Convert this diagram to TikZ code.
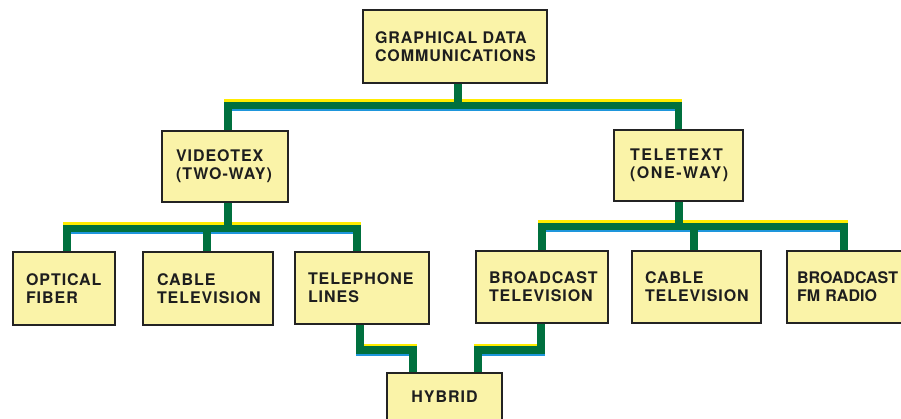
\documentclass[tikz,border=0pt]{standalone}
\usepackage{fontspec}
\newfontfamily\boxfont[LetterSpace=6]{TeX Gyre Heros}
\newfontfamily\wideboxfont[LetterSpace=10]{TeX Gyre Heros}
\newfontfamily\tightboxfont[LetterSpace=0]{TeX Gyre Heros}
\usetikzlibrary{calc}
\definecolor{boxfill}{RGB}{250,243,168}
\definecolor{boxline}{RGB}{35,35,35}
\definecolor{boxtext}{RGB}{30,30,30}
\definecolor{linegreen}{RGB}{0,112,62}
\definecolor{lineyellow}{RGB}{255,236,0}
\definecolor{lineblue}{RGB}{30,150,220}
\pgfdeclarelayer{bgfill}
\pgfdeclarelayer{ylay}
\pgfdeclarelayer{blay}
\pgfdeclarelayer{glay}
\pgfsetlayers{bgfill,ylay,blay,glay,main}
\tikzset{
  box/.style={draw=boxline, line width=1.4pt, fill=boxfill, align=left,
    inner ysep=2pt, text=boxtext,
    font=\boxfont\bfseries\fontsize{16}{18}\selectfont},
  bx/.style args={#1/#2/#3}{box, text width=#1pt, minimum height=#2pt, inner xsep=#3pt},
  wide/.style={font=\wideboxfont\bfseries\fontsize{16}{18}\selectfont},
  tight/.style={font=\tightboxfont\bfseries\fontsize{16}{18}\selectfont},
  conn/.style={line width=7.5pt, line join=miter, line cap=butt},
  yl/.style={conn, draw=lineyellow, transform canvas={yshift=2.5pt}},
  bl/.style={conn, draw=lineblue, transform canvas={yshift=-2pt}},
  gl/.style={conn, draw=linegreen},
}
\newcommand\tripath[1]{%
  \begin{pgfonlayer}{ylay}\draw[yl] #1;\end{pgfonlayer}%
  \begin{pgfonlayer}{blay}\draw[bl] #1;\end{pgfonlayer}%
  \begin{pgfonlayer}{glay}\draw[gl] #1;\end{pgfonlayer}%
}
\begin{document}
\begin{tikzpicture}[x=1pt,y=-1pt]
\useasboundingbox (0,0) rectangle (901,419);
\begin{pgfonlayer}{bgfill}
\fill[white] (0,0) rectangle (901,419);
\end{pgfonlayer}

\node[bx=160/73/12] (root) at (455,46.5) {GRAPHICAL DATA\\COMMUNICATIONS};
\node[bx=98/71/14] (vt) at (225,166.5) {VIDEOTEX\\(TWO-WAY)};
\node[bx=97/71/16, wide] (tt) at (678.5,165.5) {TELETEXT\\(ONE-WAY)};

\node[bx=76/73/13] (of) at (64,288.5) {OPTICAL\\FIBER};
\node[bx=102/73/14] (ctl) at (208,288.5) {CABLE\\TELEVISION};
\node[bx=108/72/13] (tl) at (362,288) {TELEPHONE\\LINES};
\node[bx=106/72/13] (btv) at (542,287) {BROADCAST\\TELEVISION};
\node[bx=103/72/13] (ctr) at (696.5,287) {CABLE\\TELEVISION};
\node[bx=105/72/10, tight] (fm) at (849.5,287) {BROADCAST\\FM RADIO};
\node[box, align=center, text width=107pt, inner xsep=4pt, minimum height=48pt] (hy) at (444.5,397) {HYBRID};

\coordinate (b1) at (0,105.5);
\coordinate (b2) at (0,228.5);
\coordinate (b3) at (0,226.5);
\coordinate (b4) at (0,350);

\tripath{($(root.south)+(3,0)$) -- ($(root.south|-b1)+(3,0)$)}
\tripath{($(vt.north)+(3,0)$) |- (b1 -| tt.north) -- (tt.north)}
\tripath{($(vt.south)+(3,0)$) -- ($(vt.south|-b2)+(3,0)$)}
\tripath{($(of.north)+(3,0)$) |- ($(tl.north|-b2)+(-5,0)$) -- ($(tl.north)+(-5,0)$)}
\tripath{($(ctl.north|-b2)+(-1,0)$) -- ($(ctl.north)+(-1,0)$)}
\tripath{($(tt.south)+(0.5,0)$) -- ($(tt.south|-b3)+(0.5,0)$)}
\tripath{(btv.north) |- ($(fm.north|-b3)+(-5.5,0)$) -- ($(fm.north)+(-5.5,0)$)}
\tripath{($(ctr.north|-b3)+(-2.5,0)$) -- ($(ctr.north)+(-2.5,0)$)}
\tripath{($(tl.south)+(-2,0)$) |- ($(hy.north|-b4)+(-31.5,0)$) -- ($(hy.north)+(-31.5,0)$)}
\tripath{($(btv.south)+(-1,0)$) |- ($(hy.north|-b4)+(33.5,0)$) -- ($(hy.north)+(33.5,0)$)}
\end{tikzpicture}
\end{document}
